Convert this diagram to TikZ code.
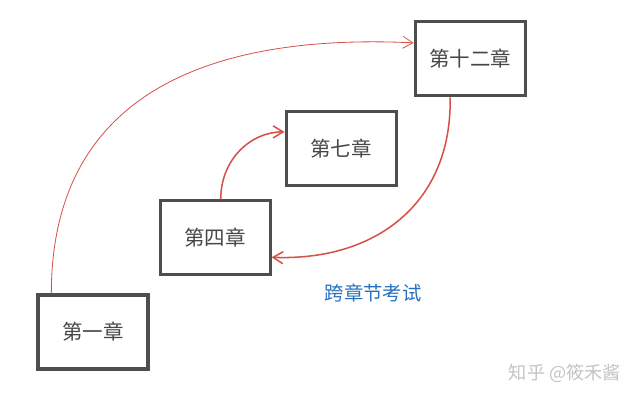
\documentclass[tikz,border=0pt]{standalone}
\usepackage{fontspec}
\usetikzlibrary{arrows.meta,positioning}
\newfontfamily\cjk{Noto Sans CJK SC}
\definecolor{boxgray}{RGB}{78,78,78}
\definecolor{inkred}{RGB}{214,82,72}
\definecolor{inkblue}{RGB}{38,112,190}
\definecolor{markgray}{RGB}{196,196,196}

\begin{document}
\begin{tikzpicture}[
    x=0.03cm, y=0.03cm,
    chapter/.style={draw=boxgray, line width=2.6pt, fill=white, minimum width=3.30cm, minimum height=2.22cm, inner sep=0pt, text=black!72, font=\cjk\fontsize{17.5}{20}\selectfont},
    jump/.style={-{Straight Barb[length=3mm, width=3.6mm]}, draw=inkred, line width=1.3pt}
]
    \fill[white] (0,0) rectangle (640,400);
    \node[chapter] (ch1) at (93,68) {第一章};
    \node[chapter, above right=0.51cm and 0.27cm of ch1] (ch4) {第四章};
    \node[chapter, above right=0.36cm and 0.39cm of ch4] (ch7) {第七章};
    \node[chapter, above right=0.39cm and 0.48cm of ch7] (ch12) {第十二章};

    \draw[jump, line width=0.7pt] ([xshift=-1.25cm]ch1.north) .. controls +(0,194) and +(-213,10) .. ([yshift=0.48cm]ch12.west);
    \draw[jump] ([xshift=0.17cm]ch4.north) .. controls +(0,40) and +(-34,0) .. ([yshift=0.51cm]ch7.west);
    \draw[jump] ([xshift=-0.6cm]ch12.south) .. controls +(2,-106) and +(104,-4) .. ([yshift=-0.58cm]ch4.east);

    \node[text=inkblue, font=\cjk\fontsize{16.5}{19}\selectfont] (exam) at (373,107) {跨章节考试};
    \node[text=markgray, font=\cjk\fontsize{15.5}{18}\selectfont] (watermark) at (565,27) {知乎 @筱禾酱};
\end{tikzpicture}
\end{document}
